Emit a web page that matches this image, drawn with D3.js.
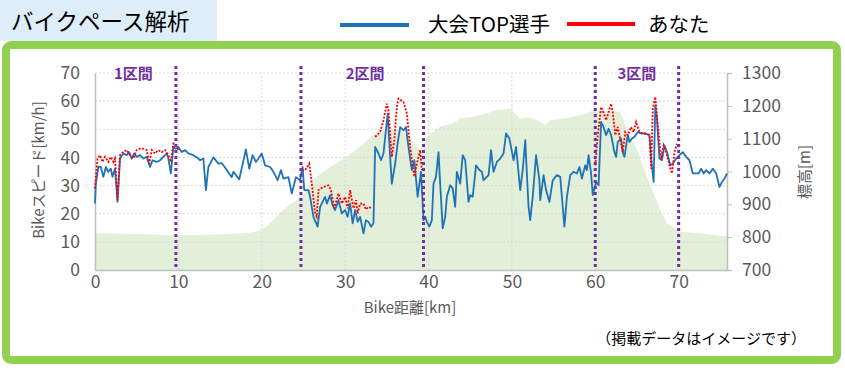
<!DOCTYPE html>
<html>
<head>
<meta charset="utf-8">
<script src="https://cdn.jsdelivr.net/npm/d3@7"></script>
<style>
  body { margin: 0; background: #fff; }
  text { font-family: "Noto Sans CJK JP", "Noto Sans", sans-serif; }
</style>
</head>
<body>
<svg id="chart"></svg>
<script>
// data: [km, value]
const topSpeed = [
  [0,23.6],[0.1,30.7],[0.4,36.6],[0.7,36.6],[1.0,33.1],[1.3,36.6],[1.6,34.9],[1.9,36],[2.1,33.1],[2.4,36],
  [2.7,24.2],[3.0,39.6],[3.4,41.4],[3.8,40.8],[4.1,41.9],[4.4,39.6],[4.7,41.4],[5.0,40.2],[5.4,40.8],[5.8,39.6],
  [6.2,40.2],[6.6,36.6],[6.9,39],[7.4,38.4],[7.8,39],[8.2,40.2],[8.6,41.4],[8.8,39.6],[9.1,34.3],[9.4,43.7],
  [9.7,43.1],[10.0,43.7],[10.4,41.9],[10.8,42.6],[11.2,41.4],[11.8,40.8],[12.4,39.6],[12.6,39],[13.0,39.6],[13.3,28.4],
  [13.6,36.6],[14.2,40],[14.8,37.8],[15.2,38],[15.8,35.5],[16.4,33],[16.6,34.9],[17.3,32.2],[18.1,42.8],[18.5,36],
  [18.9,40.8],[19.3,38.4],[19.6,39.6],[20.0,41.4],[20.4,37.2],[21.0,36.6],[21.4,34.9],[21.9,31.9],[22.3,35.5],[22.6,32.5],
  [23.2,33],[23.6,27.2],[24.1,33],[24.6,31.9],[24.9,36.6],[25.1,28.4],[25.6,28.4],[25.8,26],[26.2,18.9],[26.7,15.4],
  [27.0,22.4],[27.4,24.8],[27.6,26],[27.8,23.6],[28.2,26.6],[28.5,23],[28.8,21.3],[29.2,24.8],[29.6,20.1],[30.0,21.3],
  [30.3,18.9],[30.6,23.6],[30.9,16.6],[31.2,21.3],[31.5,17.1],[31.8,18.9],[32.2,13],[32.5,17.7],[32.8,17.1],[33.1,15.4],
  [33.4,16.6],[33.6,43.7],[34.0,41.4],[34.3,39],[34.6,41.4],[35.1,55.6],[35.4,40.2],[35.6,30.7],[36.0,37.8],[36.3,45.1],
  [36.6,50.8],[37.0,49.6],[37.3,50.8],[37.6,43.7],[38.0,35.5],[38.3,39],[38.7,26],[39.1,34.9],[39.4,17.7],[39.6,18.9],
  [39.8,17.1],[40.1,15.4],[40.4,17.7],[40.6,30.7],[40.9,33.1],[41.2,41.9],[41.4,30.7],[41.7,14.8],[42.0,18.9],[42.2,26],
  [42.6,30.1],[42.9,29],[43.2,22.4],[43.4,34.9],[43.8,30.7],[44.1,40.8],[44.4,39],[44.8,24.2],[45.0,26.6],[45.3,26],
  [45.7,37.2],[46.1,35.5],[46.4,34.9],[46.6,31.9],[47.2,33.7],[47.5,42.6],[47.8,34.9],[48.2,38.4],[48.6,39.6],[49.0,41.4],
  [49.3,48.5],[49.7,46.7],[50.2,39],[50.5,43.7],[51.0,28.4],[51.3,35.5],[51.6,46.1],[52.0,22.4],[52.2,17.7],[52.5,26],
  [52.9,40.8],[53.3,31.9],[53.4,24.8],[53.8,33.7],[54.1,28.4],[54.5,24.2],[54.9,31.9],[55.4,33.7],[55.8,33.1],[56.1,22.4],
  [56.3,15.4],[56.6,26],[57.0,33.7],[57.4,34.9],[57.8,34.3],[58.1,36.6],[58.4,32.5],[58.8,37.2],[59.0,35.5],[59.2,40.8],
  [59.5,34.3],[59.7,26.6],[60.1,31.3],[60.4,30.1],[60.7,52.6],[61.0,50.8],[61.3,47.9],[61.6,50.2],[61.9,47.9],[62.3,41.9],
  [62.5,40.2],[62.7,45.5],[63.1,46.7],[63.3,41.9],[63.5,40.2],[63.9,47.9],[64.1,45.5],[64.4,46.7],[64.7,47.3],[65.1,49],
  [65.5,48.5],[66.0,48.5],[66.5,47.9],[66.7,39.6],[67.0,31.3],[67.2,58.5],[67.4,53.8],[67.7,39.6],[68.0,39],[68.3,44.3],
  [68.6,41.9],[69.0,37.2],[69.3,37.8],[69.7,39.6],[70.1,40.8],[70.5,41.9],[70.9,40.2],[71.3,39],[71.7,34.3],[72.0,34.3],
  [72.4,34.3],[72.7,36],[73.0,34.3],[73.3,35.5],[73.7,34.3],[74.1,36],[74.5,34.3],[74.9,29.5],[75.2,31.3],[75.5,32.5],
  [75.8,34.3]
];

// "you" only exists inside the sections, null = gap
const youSpeed = [
  [0,29],[0.3,39.6],[0.6,40.8],[0.9,38.4],[1.2,40.2],[1.6,38.4],[1.9,40.2],[2.2,38.4],[2.4,39.6],[2.7,24.8],
  [3.0,40.8],[3.4,41.9],[3.8,42.6],[4.2,40.8],[4.6,39.6],[5.0,42.6],[5.4,43.1],[5.8,43.1],[6.2,42.6],[6.5,37.8],
  [6.8,42.6],[7.2,41.4],[7.6,42.6],[8.0,41.9],[8.4,42.6],[8.8,40.8],[9.1,38.4],[9.4,44.9],[9.7,44.3],[10.0,42.6],
  [10.1,null],
  [24.8,35.5],[25.2,35.5],[25.7,37.8],[26.0,30.7],[26.4,20.1],[26.6,18.9],[26.8,28.4],[27.4,29.5],[28.0,30.1],[28.3,28.4],
  [28.7,21.9],[29.2,27.2],[29.6,23.6],[30.0,26],[30.3,21.9],[30.6,28.4],[31.0,21.9],[31.3,24.8],[31.5,20.1],[31.8,23.6],
  [32.2,23.6],[32.5,21.5],[32.8,22.4],[33.2,22],
  [33.4,null],
  [33.6,47.3],[34.2,49],[34.6,53.2],[35.0,59.1],[35.2,56.7],[35.6,40.2],[35.9,46.1],[36.2,57.9],[36.4,60.9],[37.0,59.7],
  [37.4,55.6],[37.8,43.7],[38.3,33.1],[38.6,37.8],[39.0,42.6],[39.2,35.5],
  [39.5,null],
  [60.0,37.2],[60.3,47.9],[60.7,57.9],[60.9,56.7],[61.3,53.2],[61.9,59.1],[62.1,56.1],[62.4,47.9],[62.7,50.8],[63.1,44.9],
  [63.3,41.9],[63.6,49],[63.9,47.9],[64.3,50.8],[64.6,49],[64.9,52.6],[65.3,49],[65.7,48.5],[66.1,48.5],[66.5,47.9],
  [66.7,36],[66.9,57.3],[67.2,61.5],[67.5,51.4],[67.9,39.6],[68.2,44.3],[68.5,41.9],[68.9,37.2],[69.2,34.3],[69.5,41.9],
  [69.8,44.9]
];

const elevation = [
  [0,812],[5,810],[10,806],[15,808],[18,812],[19.5,818],[20.5,830],[21.5,855],[22.2,874],[23,892],
  [24,910],[25,930],[26.1,974],[28,1010],[30.2,1045],[32,1080],[33.4,1112],[35,1126],[36.2,1130],[37.5,1110],
  [39,1066],[39.8,1106],[41.4,1137],[43,1147],[43.8,1162],[45,1165],[47,1177],[48,1187],[49.8,1190],[50.5,1175],
  [51,1160],[52,1165],[53,1157],[54,1142],[54.5,1155],[55.8,1160],[57,1165],[59,1177],[59.8,1187],[61,1185],
  [63,1182],[63.7,1137],[65,1066],[66.2,984],[67.8,883],[68.6,842],[70.1,817],[72.5,812],[75.8,802]
];

const sectionLines = [9.7, 24.7, 39.4, 60.0, 70.0];
const sectionLabels = [
  { name: "1区間", km: 4.6 },
  { name: "2区間", km: 32.4 },
  { name: "3区間", km: 65.0 }
];
const kmTicks = [0, 10, 20, 30, 40, 50, 60, 70];
const speedTicks = [0, 10, 20, 30, 40, 50, 60, 70];
const elevTicks = [700, 800, 900, 1000, 1100, 1200, 1300];

const W = 845, H = 370;
const blue = "#1f72b8", red = "#ff0000", purple = "#7030a0", grey = "#595959";

const svg = d3.select("#chart").attr("width", W).attr("height", H);

// title box
svg.append("rect").attr("x", 0).attr("y", 0).attr("width", 217).attr("height", 41).attr("fill", "#ddeefa");
svg.append("text").attr("x", 11).attr("y", 30).attr("font-size", 22.5).attr("fill", "#000").text("バイクペース解析");

// legend
svg.append("line").attr("x1", 340).attr("x2", 409).attr("y1", 25).attr("y2", 25)
  .attr("stroke", blue).attr("stroke-width", 4);
svg.append("text").attr("x", 428).attr("y", 32).attr("font-size", 20.5).text("大会TOP選手");
svg.append("line").attr("x1", 567).attr("x2", 635).attr("y1", 24).attr("y2", 24)
  .attr("stroke", red).attr("stroke-width", 4);
svg.append("text").attr("x", 648).attr("y", 32).attr("font-size", 20.5).text("あなた");

// green frame
svg.append("rect").attr("x", 6).attr("y", 45).attr("width", 831).attr("height", 315)
  .attr("rx", 5).attr("fill", "#fff").attr("stroke", "#92d050").attr("stroke-width", 8);

// scales
const x = d3.scaleLinear().domain([0, 75.8]).range([95, 727]);
const y = d3.scaleLinear().domain([0, 70]).range([270, 73]);
const yE = d3.scaleLinear().domain([700, 1300]).range([270, 73]);

// elevation area
svg.append("path").datum(elevation)
  .attr("fill", "#e2efd9")
  .attr("d", d3.area().x(d => x(d[0])).y0(yE(700)).y1(d => yE(d[1])));

// grid
svg.append("g").selectAll("line").data(speedTicks.slice(1)).join("line")
  .attr("x1", x(0)).attr("x2", x(75.8)).attr("y1", d => y(d)).attr("y2", d => y(d))
  .attr("stroke", "#d9d9d9").attr("stroke-dasharray", "2,2");
svg.append("g").selectAll("line").data(kmTicks.slice(1)).join("line")
  .attr("x1", d => x(d)).attr("x2", d => x(d)).attr("y1", y(0)).attr("y2", y(70))
  .attr("stroke", "#d9d9d9").attr("stroke-dasharray", "2,2");

// axes
const axisLeft = svg.append("g").attr("transform", "translate(" + x(0) + ",0)")
  .call(d3.axisLeft(y).tickValues(speedTicks).tickSize(0).tickPadding(15));
const axisRight = svg.append("g").attr("transform", "translate(" + x(75.8) + ",0)")
  .call(d3.axisRight(yE).tickValues(elevTicks).tickFormat(d3.format("d")).tickSize(5).tickPadding(10));
const axisBottom = svg.append("g").attr("transform", "translate(0," + y(0) + ")")
  .call(d3.axisBottom(x).tickValues(kmTicks).tickSize(0).tickPadding(6));
[axisLeft, axisRight, axisBottom].forEach(g => {
  g.select(".domain").attr("stroke", "#bfbfbf").attr("stroke-width", 1.5);
  g.selectAll(".tick line").attr("stroke", "#bfbfbf");
  g.selectAll("text").attr("font-size", 17.5).attr("fill", grey)
    .attr("font-family", "'Noto Sans', sans-serif");
});

// axis titles
svg.append("text").attr("transform", "translate(44,170) rotate(-90)")
  .attr("text-anchor", "middle").attr("font-size", 15).attr("fill", grey).text("Bikeスピード[km/h]");
svg.append("text").attr("transform", "translate(810,172) rotate(-90)")
  .attr("text-anchor", "middle").attr("font-size", 15).attr("fill", grey).text("標高[m]");
svg.append("text").attr("x", 410).attr("y", 313)
  .attr("text-anchor", "middle").attr("font-size", 15).attr("fill", grey).text("Bike距離[km]");

// speed lines
const line = d3.line().defined(d => d[1] !== null).x(d => x(d[0])).y(d => y(d[1]));
svg.append("path").datum(topSpeed)
  .attr("fill", "none").attr("stroke", blue).attr("stroke-width", 1.8).attr("stroke-linejoin", "round")
  .attr("d", line);
svg.append("path").datum(youSpeed)
  .attr("fill", "none").attr("stroke", red).attr("stroke-width", 1.8).attr("stroke-dasharray", "2,1.5")
  .attr("d", line);

// section dividers
svg.append("g").selectAll("line").data(sectionLines).join("line")
  .attr("x1", d => x(d)).attr("x2", d => x(d)).attr("y1", 66).attr("y2", y(0))
  .attr("stroke", purple).attr("stroke-width", 3).attr("stroke-dasharray", "3,3");
svg.append("g").selectAll("text").data(sectionLabels).join("text")
  .attr("x", d => x(d.km)).attr("y", 79).attr("text-anchor", "middle")
  .attr("font-size", 15).attr("font-weight", "bold").attr("fill", purple).text(d => d.name);

// note
svg.append("text").attr("x", 806).attr("y", 344).attr("text-anchor", "end")
  .attr("font-size", 15).attr("fill", "#000").text("（掲載データはイメージです）");
</script>
</body>
</html>
